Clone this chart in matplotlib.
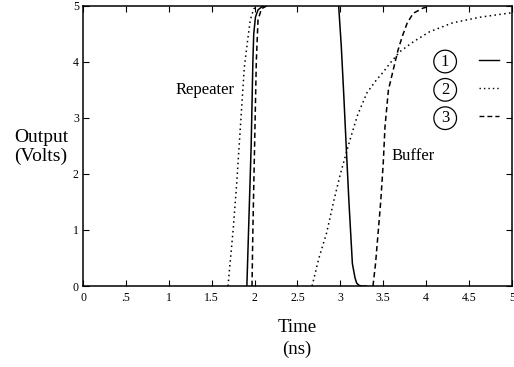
import matplotlib.pyplot as plt
from matplotlib.lines import Line2D

plt.rcParams['font.family'] = ['Liberation Serif', 'DejaVu Serif']

# Repeater output transitions (time in ns, volts)
rep1_t = [1.91, 1.93, 1.96, 1.98, 1.99, 2.01, 2.04, 2.08, 2.12]
rep1_v = [0, 1.0, 2.5, 4.0, 4.5, 4.8, 4.93, 4.98, 5.0]
rep2_t = [1.69, 1.72, 1.75, 1.79, 1.82, 1.85, 1.88, 1.92, 1.95, 1.99, 2.04]
rep2_v = [0, 0.5, 1.0, 1.8, 2.5, 3.2, 3.9, 4.4, 4.75, 4.95, 5.0]
rep3_t = [1.97, 1.98, 2.0, 2.02, 2.04, 2.08, 2.14]
rep3_v = [0, 1.0, 2.5, 4.0, 4.75, 4.95, 5.0]

# Buffer output transitions
buf1_t = [2.98, 3.01, 3.04, 3.07, 3.10, 3.14, 3.17, 3.19, 3.22, 3.25, 3.3]
buf1_v = [5, 4.3, 3.4, 2.43, 1.5, 0.4, 0.15, 0.05, 0.01, 0, 0]
buf2_t = [2.67, 2.75, 2.84, 2.92, 3.0, 3.11, 3.2, 3.31, 3.42, 3.50, 3.58,
          3.69, 3.85, 4.04, 4.31, 4.63, 5.0]
buf2_v = [0, 0.5, 0.95, 1.5, 2.0, 2.6, 3.05, 3.45, 3.68, 3.82, 3.98,
          4.18, 4.36, 4.54, 4.7, 4.8, 4.88]
buf3_t = [3.38, 3.41, 3.44, 3.47, 3.50, 3.52, 3.56, 3.61, 3.67, 3.72, 3.78,
          3.85, 3.96, 4.05]
buf3_v = [0, 0.4, 0.95, 1.5, 2.2, 2.84, 3.5, 3.82, 4.2, 4.45, 4.7,
          4.87, 4.96, 5.0]

x_ticks = [0, 0.5, 1, 1.5, 2, 2.5, 3, 3.5, 4, 4.5, 5]
x_labels = ['0', '.5', '1', '1.5', '2', '2.5', '3', '3.5', '4', '4.5', '5']
y_ticks = [0, 1, 2, 3, 4, 5]
legend_labels = ['1', '2', '3']

styles = ['-', (0, (1, 2.2)), (0, (3.5, 2.2))]

fig = plt.figure(figsize=(5.14, 3.67), dpi=100)
ax = fig.add_axes([0.1615, 0.2207, 0.8345, 0.763])

for t, v, ls in [(rep1_t, rep1_v, styles[0]), (rep2_t, rep2_v, styles[1]),
                 (rep3_t, rep3_v, styles[2]), (buf1_t, buf1_v, styles[0]),
                 (buf2_t, buf2_v, styles[1]), (buf3_t, buf3_v, styles[2])]:
    ax.plot(t, v, color='black', linestyle=ls, linewidth=1.1)

ax.set_xlim(0, 5)
ax.set_ylim(0, 5)
ax.set_xticks(x_ticks)
ax.set_xticklabels(x_labels)
ax.set_yticks(y_ticks)
ax.tick_params(direction='in', top=True, right=True, labelsize=8.5,
               length=4.5, width=0.8, pad=4)
ax.tick_params(axis='y', pad=3)
for s in ax.spines.values():
    s.set_linewidth(1.1)

ax.text(1.77, 3.5, 'Repeater', fontsize=12, ha='right', va='center')
ax.text(3.6, 2.33, 'Buffer', fontsize=12, ha='left', va='center')

fig.text(0.08, 0.6, 'Output\n(Volts)', fontsize=14, ha='center',
         va='center', linespacing=1.15)
fig.text(0.578, 0.078, 'Time\n(ns)', fontsize=13.5, ha='center',
         va='center', linespacing=1.3)

handles = [Line2D([], [], color='black', linestyle=ls, linewidth=1.0)
           for ls in styles]
leg = ax.legend(handles, legend_labels, markerfirst=False, frameon=False,
                loc='upper right', bbox_to_anchor=(0.99, 0.86),
                borderpad=0, fontsize=12, handlelength=1.2,
                handletextpad=1.8, labelspacing=0.74)
for txt in leg.get_texts():
    txt.set_bbox(dict(boxstyle='circle,pad=0.2', fc='none', ec='black',
                      lw=0.9))

fig.savefig('out.png', dpi=100)
